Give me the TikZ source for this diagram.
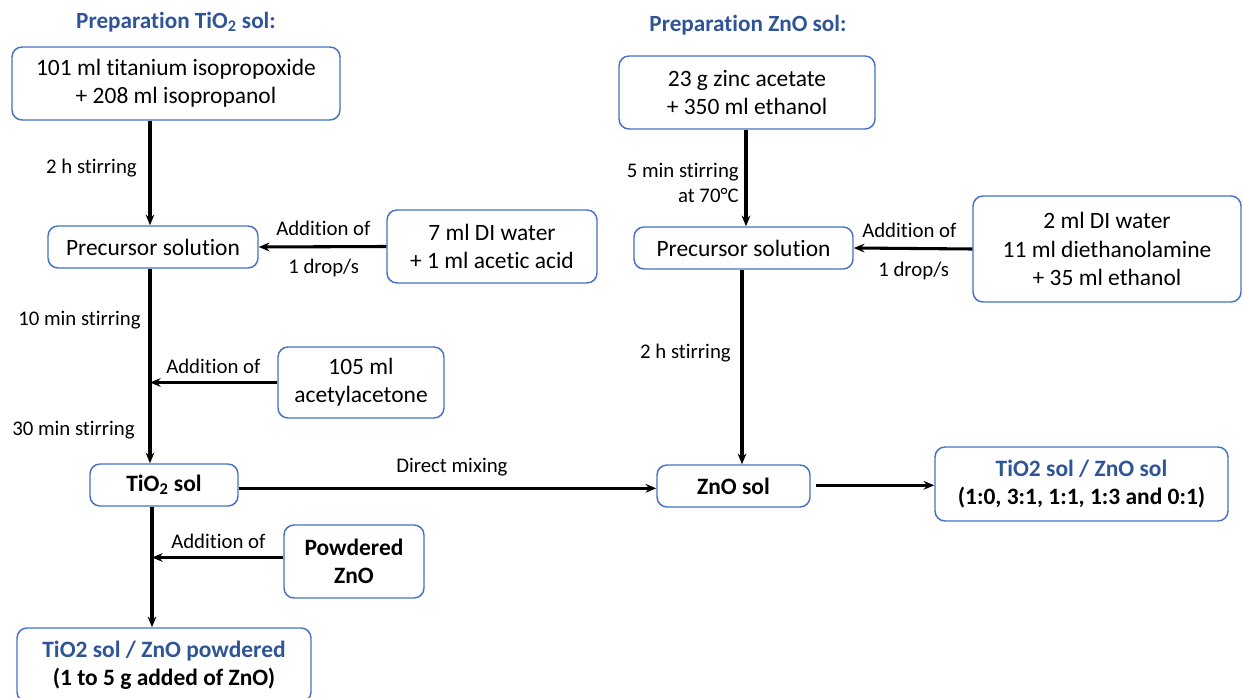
\documentclass[tikz,border=0pt]{standalone}
\usepackage{fontspec}
\setmainfont{Carlito}[Ligatures=NoCommon]
\usetikzlibrary{arrows.meta}
\definecolor{bordblue}{HTML}{4472C4}
\definecolor{titblue}{HTML}{2F5597}
\tikzset{
  box/.style={draw=bordblue, line width=1.1pt, rounded corners=7.5pt, fill=white, align=center, inner sep=0pt,
    font=\fontsize{17.6}{21.3}\selectfont},
  bbox/.style={box, font=\fontsize{17.6}{21.3}\selectfont\bfseries},
  lbl/.style={inner sep=0pt, font=\fontsize{15.6}{18.8}\selectfont, align=right},
  arr/.style={line width=2.3pt, -{Stealth[length=8pt,width=6.5pt]}},
  ttl/.style={inner sep=0pt, font=\fontsize{17.4}{20}\selectfont\bfseries, text=titblue}
}
\begin{document}
\begin{tikzpicture}[x=0.75pt,y=-0.75pt]
\useasboundingbox (0,0) rectangle (1243,698);
% columns
\coordinate (l1) at (150,0);
\coordinate (l2) at (152,0);
\coordinate (r1) at (746,0);
\coordinate (r2) at (742,0);
% titles
\node[ttl] (t1) at (176,22) {Preparation TiO\textsubscript{2} sol:};
\node[ttl] (t2) at (748,25) {Preparation ZnO sol:};
% left column
\node[box, minimum width=246pt, minimum height=54.75pt] (A) at (176,83.5) {101 ml titanium isopropoxide\\+ 208 ml isopropanol};
\node[box, minimum width=157.5pt, minimum height=31.5pt] (P1) at (153,247) {Precursor solution};
\node[box, minimum width=157.5pt, minimum height=54.75pt] (B) at (492,246.5) {7 ml DI water\\+ 1 ml acetic acid};
\node[box, minimum width=124.5pt, minimum height=53.25pt] (C) at (361,382.5) {105 ml\\acetylacetone};
\node[bbox, minimum width=111pt, minimum height=31.5pt] (T) at (164,485) {TiO\textsubscript{2} sol};
\node[bbox, minimum width=105pt, minimum height=54.75pt] (D) at (354,561.5) {Powdered\\ZnO};
\node[bbox, minimum width=220.5pt, minimum height=55.5pt] (E) at (164,665) {\textcolor{titblue}{TiO2 sol / ZnO powdered}\\(1 to 5 g added of ZnO)};
% right column
\node[box, minimum width=192pt, minimum height=54.75pt] (F) at (747,92.5) {23 g zinc acetate\\+ 350 ml ethanol};
\node[box, minimum width=164.25pt, minimum height=31.5pt] (P2) at (743.5,248) {Precursor solution};
\node[box, minimum width=201pt, minimum height=79.5pt] (G) at (1107,249) {2 ml DI water\\11 ml diethanolamine\\+ 35 ml ethanol};
\node[bbox, minimum width=114.75pt, minimum height=31.5pt] (Z) at (733.5,486) {ZnO sol};
\node[bbox, minimum width=219.75pt, minimum height=55.5pt] (H) at (1081.5,484) {\textcolor{titblue}{TiO2 sol / ZnO sol}\\(1:0, 3:1, 1:1, 1:3 and 0:1)};
% connectors left
\draw[arr] (A.south -| l1) -- (P1.north -| l1);
\draw[arr] (P1.south -| l1) -- (T.north -| l1);
\draw[arr] (B.west) -- (P1.east);
\draw[arr] (C.west) -- (C.west -| l1);
\draw[arr] ([yshift=-2.5pt]T.east) -- ([yshift=-2.5pt]T.east -| Z.west);
\draw[arr] (T.south -| l2) -- (E.north -| l2);
\draw[arr] ([yshift=3pt]D.west) -- ([yshift=3pt]D.west -| l2);
% connectors right
\draw[arr] (F.south -| r1) -- (P2.north -| r1);
\draw[arr] (G.west) -- (P2.east);
\draw[arr] (P2.south -| r2) -- (Z.north -| r2);
\draw[arr, shorten <=4pt] ([yshift=0.5pt]Z.east) -- ([yshift=0.5pt]Z.east -| H.west);
% labels
\node[lbl, anchor=east] (s1) at (137,168) {2 h stirring};
\node[lbl, anchor=west] (a1) at (276,228) {Addition of};
\node[lbl, anchor=west] (d1) at (288,268) {1 drop/s};
\node[lbl, anchor=west] (s2) at (18,320) {10 min stirring};
\node[lbl, anchor=west] (a2) at (166,366) {Addition of};
\node[lbl, anchor=west] (s3) at (12,430) {30 min stirring};
\node[lbl, anchor=west] (dm) at (396,467) {Direct mixing};
\node[lbl, anchor=west] (a3) at (171,541) {Addition of};
\node[lbl, anchor=east] (s4) at (739,182.5) {5 min stirring\\at 70°C};
\node[lbl, anchor=west] (a4) at (862,230) {Addition of};
\node[lbl, anchor=west] (d2) at (878,271) {1 drop/s};
\node[lbl, anchor=east] (s5) at (731,353) {2 h stirring};
\end{tikzpicture}
\end{document}
